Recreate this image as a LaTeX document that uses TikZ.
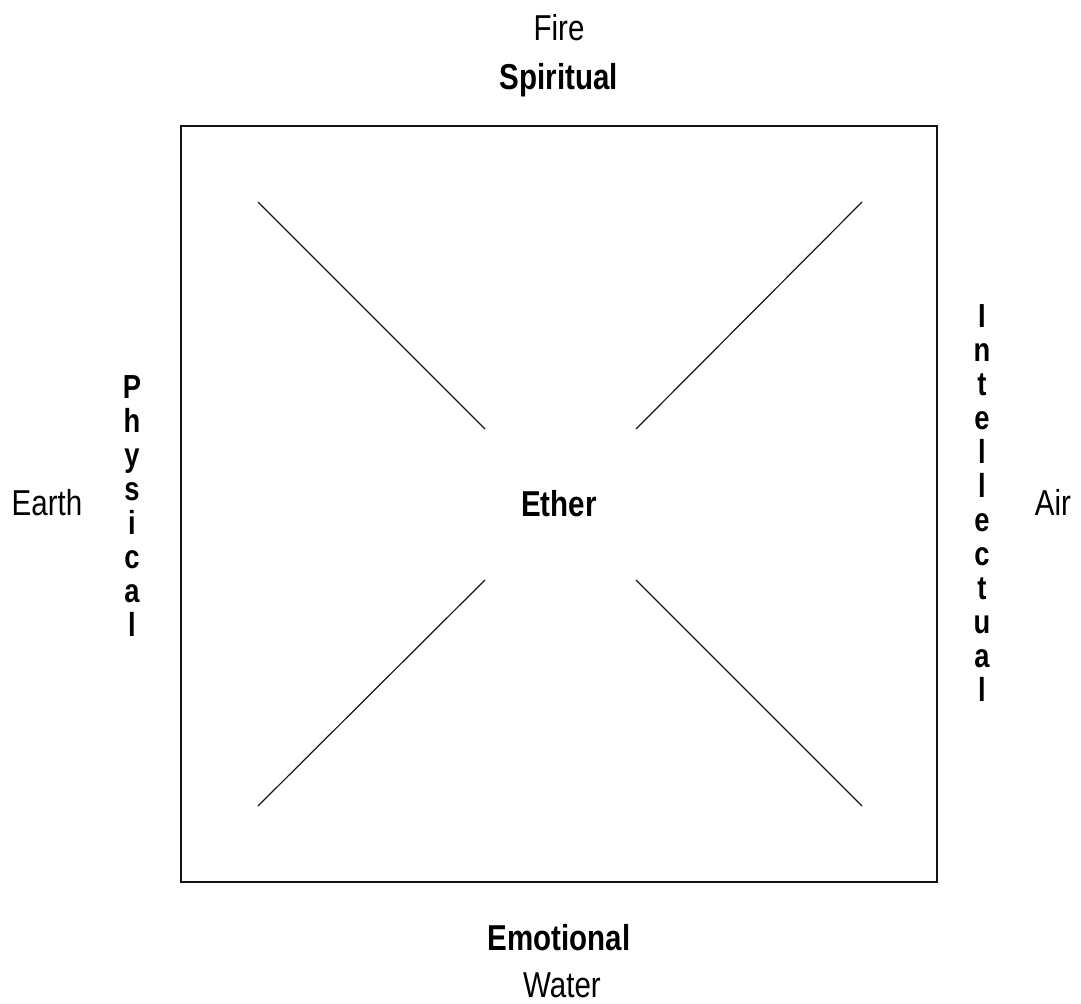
\documentclass[tikz,border=0pt]{standalone}
\usepackage{fontspec}
\setmainfont{Liberation Sans}[FakeStretch=0.82]
\usepackage{xcolor}
\definecolor{FrameBlack}{RGB}{20,20,20}
\definecolor{LabelText}{RGB}{0,0,0}
\usepackage{tikz}
\usetikzlibrary{
    positioning,
    calc
}
\tikzset{
    elem/.style={
        anchor=base,
        inner sep=0pt,
        font=\fontsize{27}{30}\selectfont,
        text=LabelText
    },
    plane/.style={
        elem,
        font=\fontsize{27}{30}\selectfont\bfseries
    },
    stack/.style={
        elem,
        font=\fontsize{25}{27}\selectfont\bfseries
    }
}

\begin{document}
\begin{tikzpicture}[x=0.75pt,y=-0.75pt]
%
    \useasboundingbox
    (0,0)
    rectangle
    (1081,1003);
%
    % outer square
%
    \draw[
        FrameBlack,
        line width=1.5pt
    ]
    (181,126)
    rectangle
    (937,882);
%
    % corner and centre ends of the four diagonals
%
    \coordinate (nw-out) at (258,202);
    \coordinate (nw-in)  at (485,429);
    \coordinate (ne-out) at (862,202);
    \coordinate (ne-in)  at (636,429);
    \coordinate (sw-out) at (258,806);
    \coordinate (sw-in)  at (485,580);
    \coordinate (se-out) at (862,806);
    \coordinate (se-in)  at (636,580);
%
    \draw[
        FrameBlack,
        line width=0.9pt
    ]
    (nw-out) -- (nw-in)
    (ne-out) -- (ne-in)
    (sw-out) -- (sw-in)
    (se-out) -- (se-in);
%
    % elements and planes
%
    \node[elem] (fire) at (559,40) {Fire};
    \node[plane] (spiritual) at (559,89) {Spiritual};
    \node[plane] (ether) at (559,516) {Ether};
    \node[plane] (emotional) at (559,950) {Emotional};
    \node[elem] (water) at (562,997) {Water};
    \node[elem] (earth) at (47,515) {Earth};
    \node[elem] (air) at (1053,515) {Air};
%
    % vertical words, one letter per line
%
    \foreach \ch [count=\k from 0] in {P,h,y,s,i,c,a,l}
        \node[stack] (physical-\k) at (132,398+34*\k) {\ch};
%
    \foreach \ch [count=\k from 0] in {I,n,t,e,l,l,e,c,t,u,a,l}
        \node[stack] (intellectual-\k) at (982,327+34*\k) {\ch};
%
\end{tikzpicture}
\end{document}
